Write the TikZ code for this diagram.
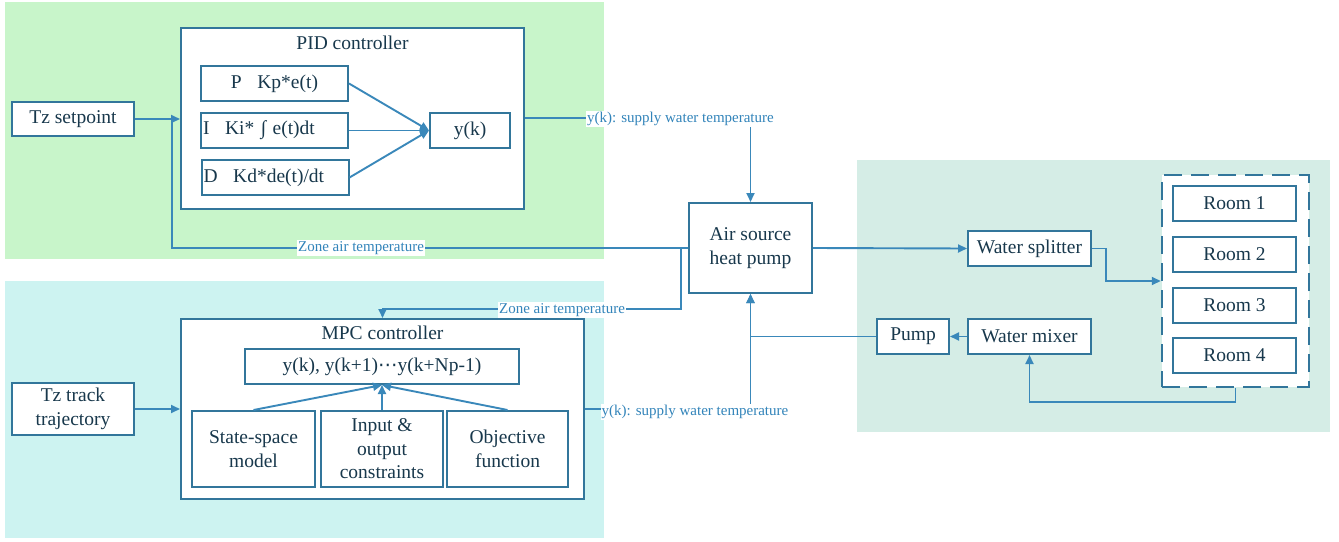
\documentclass[tikz,border=0pt]{standalone}
\usepackage{fontspec}
\setmainfont{Liberation Serif}
\newfontfamily\dejavu{DejaVu Sans}
\usetikzlibrary{arrows.meta,calc}
\definecolor{bord}{RGB}{50,118,155}
\definecolor{conn}{RGB}{58,136,186}
\definecolor{txt}{RGB}{24,56,76}
\definecolor{lbl}{RGB}{50,132,186}
\definecolor{bggreen}{RGB}{200,245,202}
\definecolor{bgcyan}{RGB}{205,243,241}
\definecolor{bgteal}{RGB}{213,237,230}
\begin{document}
\begin{tikzpicture}[x=1pt,y=-1pt,
  box/.style={draw=bord,line width=2pt,fill=white,text=txt,font=\fontsize{19.5}{23.5}\selectfont,inner sep=0pt,align=center},
  ttl/.style={text=txt,font=\fontsize{19.5}{23.5}\selectfont,inner sep=0pt},
  lab/.style={fill=white,text=lbl,font=\fontsize{15}{17}\selectfont,inner sep=1pt},
  wire/.style={draw=conn,line width=1.9pt},
  arr/.style={wire,-{Triangle[length=9pt,width=8pt]}},
]
\useasboundingbox (0,0) rectangle (1339,541);
% backgrounds
\fill[bggreen] (5,2) rectangle (604,259);
\fill[bgcyan] (5,281) rectangle (604,538);
\fill[bgteal] (857,160) rectangle (1330,432);

% PID part
\node[box,minimum width=122pt,minimum height=34pt] (tzs) at (73,119) {Tz setpoint};
\node[box,minimum width=343pt,minimum height=181pt] (pid) at (352.5,118.5) {};
\node[ttl] (pidt) at (352.5,43) {PID controller};
\node[box,minimum width=147pt,minimum height=35pt] (pp) at (274.5,83.5) {P\hspace{0.8em}Kp*e(t)};
\node[box,minimum width=147pt,minimum height=35pt,text width=143pt,align=left] (ii) at (274.5,130.5) {I\hspace{0.8em}Ki* ∫ e(t)dt};
\node[box,minimum width=147pt,minimum height=35pt,text width=143pt,align=left] (dd) at (275,177.5) {D\hspace{0.8em}Kd*de(t)/dt};
\node[box,minimum width=80pt,minimum height=35pt] (yk) at (470,130.5) {y(k)};

% MPC part
\node[box,minimum width=122pt,minimum height=52pt] (tzt) at (73,409) {Tz track\\trajectory};
\node[box,minimum width=403pt,minimum height=180pt] (mpc) at (382.5,409) {};
\node[ttl] (mpct) at (382.5,333) {MPC controller};
\node[box,minimum width=274pt,minimum height=35pt] (yks) at (382,366.5) {y(k), y(k+1){\dejavu ⋯}y(k+Np-1)};
\node[box,minimum width=123pt,minimum height=76pt] (ss) at (253.5,449) {State-space\\model};
\node[box,minimum width=122pt,minimum height=76pt] (io) at (382,449) {Input \&\\output\\constraints};
\node[box,minimum width=121pt,minimum height=76pt] (obj) at (507.5,449) {Objective\\function};

% heat pump and water loop
\node[box,minimum width=123pt,minimum height=90pt] (hp) at (750.5,248) {Air source\\heat pump};
\node[box,minimum width=123pt,minimum height=35pt] (ws) at (1029.5,248.5) {Water splitter};
\node[box,minimum width=123pt,minimum height=35pt] (wm) at (1029.5,336.5) {Water mixer};
\node[box,minimum width=72pt,minimum height=35pt] (pump) at (913,336.5) {Pump};
\node[draw=bord,dash pattern=on 18pt off 9pt,line width=2.5pt,fill=white,minimum width=147pt,minimum height=212pt,inner sep=0pt] (rooms) at (1235.5,281) {};
\node[box,minimum width=123pt,minimum height=35pt] (r1) at (1234.5,203.5) {Room 1};
\node[box,minimum width=123pt,minimum height=35pt] (r2) at (1234.5,254.5) {Room 2};
\node[box,minimum width=123pt,minimum height=35pt] (r3) at (1234.5,305) {Room 3};
\node[box,minimum width=123pt,minimum height=35pt] (r4) at (1234.5,355.5) {Room 4};

% junctions
\coordinate (j1) at (172,119);
\coordinate (j2) at (681,248);
\coordinate (j3) at (382.5,309);

% connectors
\draw[arr] (tzs.east) -- (pid.west |- tzs.east);
\draw[wire] (hp.west) -| (j1);
\draw[arr] (pp.east) -- (yk.west);
\draw[arr] (ii.east) -- (yk.west);
\draw[arr] (dd.east) -- (yk.west);
\draw[arr] (pid.east |- 0,118) -| (hp.north);

\draw[arr] (tzt.east) -- (mpc.west);
\draw[arr] (ss.north) -- (yks.south);
\draw[arr] (io.north) -- (yks.south);
\draw[arr] (obj.north) -- (yks.south);
\draw[arr] (j2) |- (j3) -- (mpc.north);
\draw[arr] (mpc.east) -| (hp.south);

\draw[arr] (hp.east) -- (ws.west);
\draw[arr] (ws.east) -- ++(14,0) |- (rooms.west);
\draw[arr] (rooms.south) -- ++(0,14) -| (wm.south);
\draw[arr] (wm.west) -- (pump.east);
\draw[arr] (pump.west) -| (hp.south);

% labels
\node[lab] (l1) at (680.5,119) {y(k): supply water temperature};
\node[lab] (l2) at (361,248) {Zone air temperature};
\node[lab] (l3) at (562,310) {Zone air temperature};
\node[lab] (l4) at (695,412) {y(k): supply water temperature};
\end{tikzpicture}
\end{document}
